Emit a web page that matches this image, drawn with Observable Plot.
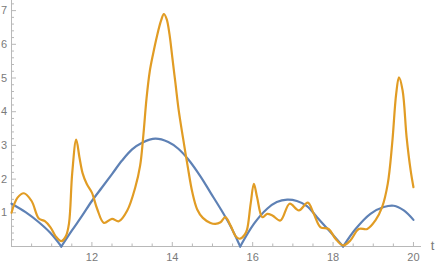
<!DOCTYPE html>
<html>
<head>
<meta charset="utf-8">
<script src="https://cdn.jsdelivr.net/npm/d3@7"></script>
<script src="https://cdn.jsdelivr.net/npm/@observablehq/plot@0.6"></script>
<style>
  html, body { margin: 0; padding: 0; background: #fff; }
  #chart svg { display: block; overflow: visible; }
</style>
</head>
<body>
<div id="chart"></div>
<script>
// Blue curve (arcs meet at the zero cusps)
const blueT = [10, 10.35, 10.68, 10.97, 11.24,
  11.5, 11.75, 12, 12.25, 12.5, 12.75, 13, 13.25, 13.58, 13.9, 14.15, 14.4, 14.7, 14.95, 15.2, 15.45, 15.69,
  16.03, 16.36, 16.6, 16.86, 17.1, 17.35, 17.6, 17.94, 18.25,
  18.56, 18.93, 19.26, 19.51, 19.76, 20];
const blueY = [1.27, 1.02, 0.72, 0.40, 0,
  0.47, 0.9, 1.35, 1.75, 2.15, 2.55, 2.88, 3.08, 3.2, 3.1, 2.9, 2.58, 2.08, 1.6, 1.12, 0.6, 0,
  0.67, 1.12, 1.32, 1.39, 1.35, 1.2, 0.87, 0.42, 0,
  0.52, 0.97, 1.17, 1.21, 1.07, 0.79];

// Orange curve
const orangeT = [10, 10.15, 10.31, 10.5, 10.68, 10.83, 10.97, 11.1, 11.24, 11.35, 11.43, 11.51, 11.61, 11.69, 11.77, 11.87, 12.0, 12.13, 12.3, 12.5, 12.67, 12.88,
  13.08, 13.2, 13.28, 13.36, 13.44, 13.52, 13.62, 13.72, 13.79, 13.86, 13.93, 14.0, 14.08, 14.16, 14.27, 14.38, 14.5, 14.62, 14.76, 14.95,
  15.07, 15.2, 15.32, 15.45, 15.58, 15.68, 15.8, 15.86, 15.95, 16.03, 16.11, 16.24, 16.36, 16.49, 16.69, 16.92,
  17.15, 17.37, 17.52, 17.69, 17.89, 18.06, 18.25, 18.43, 18.64, 18.85, 19.05, 19.22, 19.36, 19.47, 19.57, 19.64,
  19.73, 19.83, 19.93, 20];
const orangeY = [1.0, 1.45, 1.58, 1.35, 0.83, 0.75, 0.57, 0.3, 0.16, 0.3, 0.68, 2.17, 3.17, 2.65, 2.17, 1.86, 1.6, 1.12, 0.7, 0.82, 0.75, 1.07,
  1.76, 2.4, 3.3, 4.4, 5.2, 5.7, 6.25, 6.7, 6.9, 6.75, 6.3, 5.62, 4.83, 4.04, 3.2, 2.4, 1.6, 1.1, 0.85, 0.7,
  0.67, 0.72, 0.87, 0.62, 0.3, 0.23, 0.35, 0.5, 1.27, 1.86, 1.46, 0.87, 0.97, 0.92, 0.77, 1.27,
  1.07, 1.3, 0.97, 0.57, 0.52, 0.23, 0.03, 0.18, 0.52, 0.52, 0.77, 1.17, 1.86, 3.05, 4.53, 5.02,
  4.63, 3.24, 2.26, 1.76];

// Ticks
const xMajor = [12, 14, 16, 18, 20];
const xMinor = [10.5, 11, 11.5, 12.5, 13, 13.5, 14.5, 15, 15.5, 16.5, 17, 17.5, 18.5, 19, 19.5];
const yMajor = [1, 2, 3, 4, 5, 6, 7];
const yMinor = d3.range(1, 37).map(i => +(i * 0.2).toFixed(1)).filter(d => Math.abs(d - Math.round(d)) > 1e-6 && d <= 7.3);
const axisLabel = "t";

// build blue segments split at zero cusps
const blue = [];
let arc = 0;
for (let i = 0; i < blueT.length; i++) {
  blue.push({t: blueT[i], y: blueY[i], arc});
  if (blueY[i] === 0 && i > 0 && i < blueT.length - 1) {
    arc++;
    blue.push({t: blueT[i], y: blueY[i], arc});
  }
}
const orange = orangeT.map((t, i) => ({t, y: orangeY[i]}));

const W = 436, H = 268, mL = 11, mR = 15, mT = 0, mB = 22;
const frameW = W - mL - mR, frameH = H - mT - mB;
const axisColor = "#b8b8b8";
const textColor = "#7a7a7a";

const chart = Plot.plot({
  width: W,
  height: H,
  marginLeft: mL,
  marginRight: mR,
  marginTop: mT,
  marginBottom: mB,
  style: {fontFamily: "'Liberation Sans', Arial, sans-serif", fontSize: "11px", background: "#fff"},
  x: {domain: [10, 20.2], axis: null},
  y: {domain: [0, 7.3], axis: null},
  marks: [
    Plot.ruleY([0], {stroke: axisColor, strokeWidth: 1}),
    Plot.ruleX([10], {stroke: axisColor, strokeWidth: 1}),
    Plot.tickX(xMajor, {x: d => d, stroke: axisColor, insetTop: frameH - 4}),
    Plot.tickX(xMinor, {x: d => d, stroke: axisColor, insetTop: frameH - 2.5}),
    Plot.tickY(yMajor, {y: d => d, stroke: axisColor, insetRight: frameW - 5}),
    Plot.tickY(yMinor, {y: d => d, stroke: axisColor, insetRight: frameW - 3}),
    Plot.text(xMajor, {x: d => d, frameAnchor: "bottom", dy: 11, fill: textColor, lineAnchor: "middle", text: d => String(d)}),
    Plot.text(yMajor, {y: d => d, frameAnchor: "left", dx: -4.5, textAnchor: "end", fill: textColor, lineAnchor: "middle", text: d => String(d)}),
    Plot.text([axisLabel], {frameAnchor: "bottom-right", dx: 11, dy: -1, fill: textColor, fontSize: 13, lineAnchor: "middle", textAnchor: "middle", text: d => d}),
    Plot.line(blue, {x: "t", y: "y", z: "arc", stroke: "#5E81B5", strokeWidth: 2.2, curve: "catmull-rom"}),
    Plot.line(orange, {x: "t", y: "y", stroke: "#E19C24", strokeWidth: 2.2, curve: "catmull-rom"})
  ]
});
document.getElementById("chart").appendChild(chart);
</script>
</body>
</html>
